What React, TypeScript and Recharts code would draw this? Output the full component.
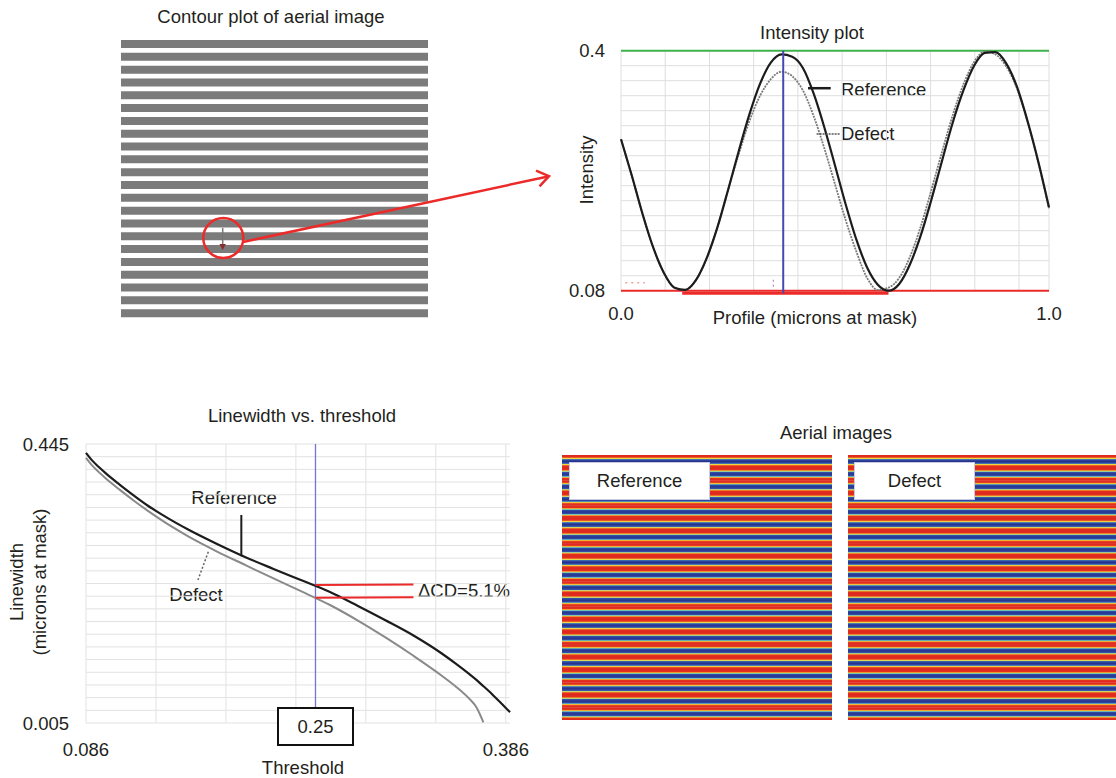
import React from "react";
import {
  BarChart,
  Bar,
  LineChart,
  Line,
  XAxis,
  YAxis,
  CartesianGrid,
  ReferenceLine,
} from "recharts";

const FONT = '"Liberation Sans", Arial, Helvetica, sans-serif';
const INK = "#231f20";
const RED = "#ec2a2a";

// ---- Intensity plot ----
const profile = [
  0, 0.025, 0.05, 0.075, 0.1, 0.125, 0.15, 0.175, 0.2, 0.225, 0.25, 0.275, 0.3, 0.325, 0.35, 0.375, 0.4, 0.425, 0.45,
  0.475, 0.5, 0.525, 0.55, 0.575, 0.6, 0.625, 0.65, 0.675, 0.7, 0.725, 0.75, 0.775, 0.8, 0.825, 0.85, 0.875, 0.9,
  0.925, 0.95, 0.975, 1.0,
];
const refIntensity = [
  0.282, 0.234, 0.183, 0.138, 0.104, 0.084, 0.081, 0.094, 0.123, 0.164, 0.214, 0.266, 0.315, 0.356, 0.384, 0.395, 0.392,
  0.377, 0.343, 0.298, 0.247, 0.195, 0.148, 0.111, 0.088, 0.08, 0.089, 0.115, 0.153, 0.201, 0.253, 0.304, 0.347, 0.38,
  0.397, 0.398, 0.383, 0.352, 0.306, 0.252, 0.191,
];
const defIntensity = [
  0.282, 0.234, 0.183, 0.138, 0.104, 0.084, 0.081, 0.094, 0.123, 0.164, 0.214, 0.262, 0.306, 0.34, 0.362, 0.372, 0.366,
  0.347, 0.313, 0.27, 0.222, 0.174, 0.132, 0.097, 0.081, 0.084, 0.097, 0.125, 0.165, 0.214, 0.265, 0.314, 0.355, 0.385,
  0.399, 0.395, 0.379, 0.35, 0.305, 0.251, 0.19,
];
const intensityTicks = [0.08, 0.4];
const intensityTickLabels = ["0.08", "0.4"];
const profileTicks = [0, 1];
const profileTickLabels = ["0.0", "1.0"];
const intensityGrid = [0.08, 0.1, 0.12, 0.14, 0.16, 0.18, 0.2, 0.22, 0.24, 0.26, 0.28, 0.3, 0.32, 0.34, 0.36, 0.38, 0.4];
const profileGrid = [0, 0.1033, 0.2067, 0.31, 0.4133, 0.5167, 0.62, 0.7233, 0.8267, 0.93, 1];
const cutPosition = 0.379;

// ---- Linewidth vs threshold ----
const thresholds = [
  0.086, 0.09, 0.095, 0.1, 0.11, 0.12, 0.13, 0.14, 0.15, 0.16, 0.18, 0.2, 0.22, 0.24, 0.26, 0.28, 0.3, 0.32, 0.34, 0.35,
  0.36, 0.365, 0.37, 0.375, 0.38, 0.385, 0.389,
];
const refLinewidth = [
  0.431, 0.42, 0.409, 0.399, 0.381, 0.364, 0.348, 0.334, 0.321, 0.309, 0.287, 0.2665, 0.248, 0.23, 0.212, 0.19, 0.167,
  0.143, 0.115, 0.099, 0.082, 0.073, 0.063, 0.053, 0.042, 0.031, 0.022,
];
const defLinewidth = [
  0.423, 0.412, 0.401, 0.391, 0.373, 0.356, 0.34, 0.325, 0.311, 0.298, 0.275, 0.254, 0.233, 0.2125, 0.1915, 0.167, 0.14,
  0.111, 0.08, 0.063, 0.043, 0.03, 0.006, null, null, null, null,
];
const linewidthTicks = [0.005, 0.445];
const linewidthTickLabels = ["0.005", "0.445"];
const thresholdTicks = [0.086, 0.386];
const thresholdTickLabels = ["0.086", "0.386"];
const thresholdGrid = [0.086, 0.136, 0.186, 0.236, 0.286, 0.336, 0.386];
const linewidthGrid = [
  0.005, 0.025, 0.045, 0.065, 0.085, 0.105, 0.125, 0.145, 0.165, 0.185, 0.205, 0.225, 0.245, 0.265, 0.285, 0.305, 0.325,
  0.345, 0.365, 0.385, 0.405, 0.425, 0.445,
];
const chosenThreshold = 0.25;
const refCD = 0.2225;
const defCD = 0.2025;

// ---- Contour plot (line extents across the field) ----
const contourLines = [1, 1, 1, 1, 1, 1, 1, 1, 1, 1, 1, 1, 1, 1, 1, 1, 1, 1, 1, 1, 1, 1];

// ---- Aerial images (one entry per stripe period) ----
const aerialPeriods = [1, 1, 1, 1, 1, 1, 1, 1, 1, 1, 1, 1, 1, 1, 1, 1, 1, 1, 1, 1, 1];

const intensityRows = profile.map((p, i) => ({ p, ref: refIntensity[i], def: defIntensity[i] }));
const linewidthRows = thresholds.map((t, i) => ({ t, ref: refLinewidth[i], def: defLinewidth[i] }));
const contourRows = contourLines.map((span, i) => ({ row: `L${i + 1}`, span }));
const aerialRows = aerialPeriods.map((span, i) => ({ row: `P${i + 1}`, span }));

const tickStyle = { fontSize: 18.5, fill: INK, fontFamily: FONT };

function Txt({ x, y, children, anchor = "middle", rotate }: any) {
  const tx = anchor === "middle" ? "-50%" : anchor === "end" ? "-100%" : "0";
  return (
    <div
      style={{
        position: "absolute",
        left: x,
        top: y,
        transform: `translate(${tx}, -50%)${rotate ? ` rotate(${rotate}deg)` : ""}`,
        whiteSpace: "nowrap",
        lineHeight: 1,
        fontSize: 18.5,
        color: INK,
      }}
    >
      {children}
    </div>
  );
}

function JetImage({ left, width }: { left: number; width: number }) {
  return (
    <div style={{ position: "absolute", left, top: 455 }}>
      <BarChart
        layout="vertical"
        width={width}
        height={265}
        data={aerialRows}
        barCategoryGap={0}
        margin={{ top: 0, right: 0, bottom: 0, left: 0 }}
      >
        <XAxis type="number" domain={[0, 1]} hide />
        <YAxis type="category" dataKey="row" hide />
        <Bar dataKey="span" fill="url(#jetBand)" isAnimationActive={false} />
      </BarChart>
    </div>
  );
}

function LabelBox({ left, width, children }: any) {
  return (
    <div
      style={{
        position: "absolute",
        left,
        top: 462,
        width,
        height: 36,
        background: "#fff",
        border: "1px solid #c9c9e6",
        display: "flex",
        alignItems: "center",
        justifyContent: "center",
        fontSize: 18.5,
        color: INK,
      }}
    >
      {children}
    </div>
  );
}

export default function App() {
  return (
    <div
      style={{
        position: "absolute",
        left: 0,
        top: 0,
        width: 1116,
        height: 778,
        background: "#fff",
        fontFamily: FONT,
        overflow: "hidden",
      }}
    >
      <svg width={0} height={0} style={{ position: "absolute" }}>
        <defs>
          <linearGradient id="jetBand" x1="0" y1="0" x2="0" y2="1">
            <stop offset="0" stopColor="#dc281e" />
            <stop offset="0.16" stopColor="#e4301f" />
            <stop offset="0.23" stopColor="#f29a2e" />
            <stop offset="0.27" stopColor="#f0da46" />
            <stop offset="0.31" stopColor="#72c8b4" />
            <stop offset="0.36" stopColor="#3250ab" />
            <stop offset="0.5" stopColor="#26338c" />
            <stop offset="0.64" stopColor="#3250ab" />
            <stop offset="0.69" stopColor="#6ec4c0" />
            <stop offset="0.73" stopColor="#efd644" />
            <stop offset="0.77" stopColor="#f2962c" />
            <stop offset="0.84" stopColor="#e4301f" />
            <stop offset="1" stopColor="#dc281e" />
          </linearGradient>
        </defs>
      </svg>

      {/* Contour plot of aerial image */}
      <Txt x={271} y={17}>Contour plot of aerial image</Txt>
      <div style={{ position: "absolute", left: 121, top: 38 }}>
        <BarChart
          layout="vertical"
          width={307}
          height={282}
          data={contourRows}
          margin={{ top: 0, right: 0, bottom: 0, left: 0 }}
        >
          <XAxis type="number" domain={[0, 1]} hide />
          <YAxis type="category" dataKey="row" hide />
          <Bar dataKey="span" fill="#7b7b7b" barSize={8} isAnimationActive={false} />
        </BarChart>
      </div>

      {/* Intensity plot */}
      <Txt x={812} y={33}>Intensity plot</Txt>
      <Txt x={587} y={170} rotate={-90}>Intensity</Txt>
      <Txt x={815} y={318}>Profile (microns at mask)</Txt>
      <Txt x={841} y={90} anchor="start">Reference</Txt>
      <Txt x={841} y={134} anchor="start">Defect</Txt>
      <div style={{ position: "absolute", left: 540, top: 20 }}>
        <LineChart
          width={530}
          height={310}
          data={intensityRows}
          margin={{ top: 30.7, right: 21, bottom: 9.3, left: 31 }}
        >
          <CartesianGrid
            stroke="#dedede"
            strokeWidth={1}
            horizontalValues={intensityGrid}
            verticalValues={profileGrid}
          />
          <XAxis
            type="number"
            dataKey="p"
            domain={[0, 1]}
            ticks={profileTicks}
            interval={0}
            tickFormatter={(_v: number, i: number) => profileTickLabels[i]}
            axisLine={false}
            tickLine={false}
            tickMargin={10}
            height={30}
            tick={tickStyle}
          />
          <YAxis
            type="number"
            domain={[0.08, 0.4]}
            ticks={intensityTicks}
            interval={0}
            tickFormatter={(_v: number, i: number) => intensityTickLabels[i]}
            axisLine={false}
            tickLine={false}
            tickMargin={10}
            width={50}
            tick={tickStyle}
          />
          <ReferenceLine y={0.4} stroke="#3fb24c" strokeWidth={2} />
          <ReferenceLine y={0.08} stroke={RED} strokeWidth={2} />
          <ReferenceLine
            segment={[{ x: 0.143, y: 0.0765 }, { x: 0.625, y: 0.0765 }]}
            stroke={RED}
            strokeWidth={3}
            ifOverflow="visible"
          />
          <ReferenceLine
            segment={[{ x: 0.01, y: 0.0907 }, { x: 0.056, y: 0.0907 }]}
            stroke="#f2a0a0"
            strokeWidth={1.5}
            strokeDasharray="2 4"
          />
          <ReferenceLine
            segment={[{ x: 0.356, y: 0.0853 }, { x: 0.356, y: 0.0947 }]}
            stroke="#c080c0"
            strokeWidth={1.2}
            strokeDasharray="2 3"
          />
          <Line
            type="monotone"
            dataKey="def"
            stroke="#7a7a7a"
            strokeWidth={1.8}
            strokeDasharray="2 1"
            dot={false}
            isAnimationActive={false}
          />
          <Line type="monotone" dataKey="ref" stroke="#1c1c1c" strokeWidth={2.2} dot={false} isAnimationActive={false} />
          <ReferenceLine
            segment={[{ x: cutPosition, y: 0.4 }, { x: cutPosition, y: 0.0765 }]}
            stroke="#4349b5"
            strokeWidth={2}
            ifOverflow="visible"
          />
          <ReferenceLine segment={[{ x: 0.437, y: 0.35 }, { x: 0.49, y: 0.35 }]} stroke="#1c1c1c" strokeWidth={2.5} />
          <ReferenceLine
            segment={[{ x: 0.457, y: 0.289 }, { x: 0.512, y: 0.289 }]}
            stroke="#555"
            strokeWidth={1.5}
            strokeDasharray="2 1"
          />
        </LineChart>
      </div>

      {/* Linewidth vs threshold */}
      <Txt x={302} y={416}>Linewidth vs. threshold</Txt>
      <Txt x={17} y={582} rotate={-90}>Linewidth</Txt>
      <Txt x={40} y={582} rotate={-90}>(microns at mask)</Txt>
      <Txt x={303} y={768}>Threshold</Txt>
      <Txt x={234} y={498}>Reference</Txt>
      <Txt x={196} y={595}>Defect</Txt>
      <Txt x={418} y={591} anchor="start">ΔCD=5.1%</Txt>
      <div style={{ position: "absolute", left: 0, top: 400 }}>
        <LineChart
          width={530}
          height={378}
          data={linewidthRows}
          margin={{ top: 44, right: 20, bottom: 15, left: 26 }}
        >
          <CartesianGrid
            stroke="#e2e2e2"
            strokeWidth={1}
            horizontalValues={linewidthGrid}
            verticalValues={thresholdGrid}
          />
          <XAxis
            type="number"
            dataKey="t"
            domain={[0.086, 0.389]}
            ticks={thresholdTicks}
            interval={0}
            tickFormatter={(_v: number, i: number) => thresholdTickLabels[i]}
            axisLine={false}
            tickLine={false}
            tickMargin={14}
            height={40}
            tick={tickStyle}
          />
          <YAxis
            type="number"
            domain={[0.005, 0.445]}
            ticks={linewidthTicks}
            interval={0}
            tickFormatter={(_v: number, i: number) => linewidthTickLabels[i]}
            axisLine={false}
            tickLine={false}
            tickMargin={11}
            width={60}
            tick={tickStyle}
          />
          <ReferenceLine x={chosenThreshold} stroke="#7373d2" strokeWidth={1.3} />
          <Line
            type="monotone"
            dataKey="def"
            stroke="#8a8a8a"
            strokeWidth={2}
            dot={false}
            connectNulls={false}
            isAnimationActive={false}
          />
          <Line type="monotone" dataKey="ref" stroke="#1c1c1c" strokeWidth={2.2} dot={false} isAnimationActive={false} />
          <ReferenceLine
            segment={[{ x: chosenThreshold, y: refCD }, { x: 0.32, y: refCD + 0.0008 }]}
            stroke={RED}
            strokeWidth={2}
          />
          <ReferenceLine
            segment={[{ x: chosenThreshold, y: defCD }, { x: 0.32, y: defCD + 0.0008 }]}
            stroke={RED}
            strokeWidth={2}
          />
          <ReferenceLine segment={[{ x: 0.197, y: 0.333 }, { x: 0.197, y: 0.268 }]} stroke="#1c1c1c" strokeWidth={2} />
          <ReferenceLine
            segment={[{ x: 0.166, y: 0.2305 }, { x: 0.1735, y: 0.2755 }]}
            stroke="#666"
            strokeWidth={1.5}
            strokeDasharray="2 2"
          />
        </LineChart>
      </div>
      <div
        style={{
          position: "absolute",
          left: 277,
          top: 707,
          width: 73,
          height: 35,
          border: "2px solid #111",
          background: "#fff",
          display: "flex",
          alignItems: "center",
          justifyContent: "center",
          fontSize: 18.5,
          color: INK,
        }}
      >
        0.25
      </div>

      {/* Aerial images */}
      <Txt x={836} y={433}>Aerial images</Txt>
      <JetImage left={562} width={270} />
      <JetImage left={848} width={268} />
      <LabelBox left={569} width={139}>Reference</LabelBox>
      <LabelBox left={854} width={119}>Defect</LabelBox>

      {/* defect marker and call-out arrow */}
      <svg
        width={1116}
        height={778}
        style={{ position: "absolute", left: 0, top: 0, pointerEvents: "none" }}
      >
        <line x1={222.7} y1={228} x2={222.7} y2={246} stroke="#777" strokeWidth={1.5} />
        <path d="M219.5,244 L225.9,244 L222.7,250 Z" fill="#8b2b2b" />
        <circle cx={223.3} cy={238} r={20} fill="none" stroke={RED} strokeWidth={2.5} />
        <line x1={243} y1={242} x2={548} y2={176.5} stroke={RED} strokeWidth={2.5} />
        <path d="M536,170.6 L549,176.2 L539.5,186.3" fill="none" stroke={RED} strokeWidth={2.5} />
      </svg>
    </div>
  );
}
